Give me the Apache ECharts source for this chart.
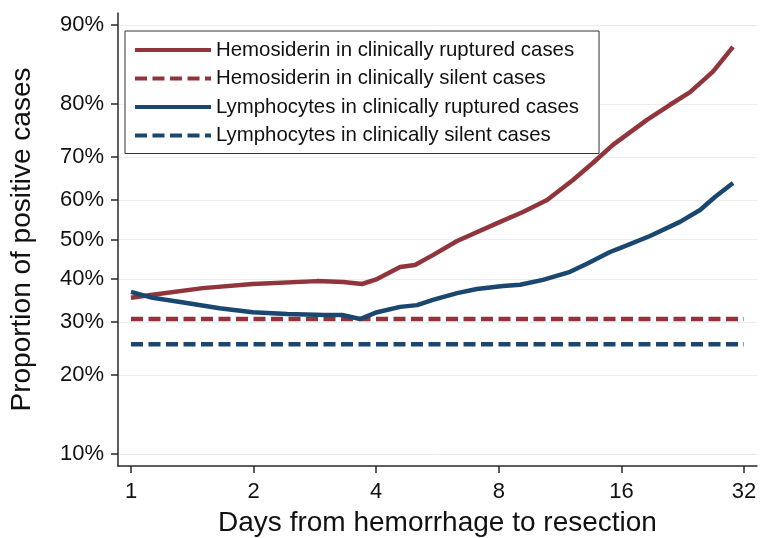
<!DOCTYPE html>
<html>
<head>
<meta charset="utf-8">
<script src="https://cdn.jsdelivr.net/npm/echarts@6/dist/echarts.min.js"></script>
<style>
  html, body { margin: 0; padding: 0; background: #fff; }
  #container { width: 760px; height: 538px; }
</style>
</head>
<body>
<div id="container"></div>
<script>
// days from hemorrhage (x, log2 scale) and proportion positive (y, logit scale)
var hemoRupDays = [1.00, 1.13, 1.50, 1.99, 2.86, 3.32, 3.69, 4.02, 4.58, 4.98, 5.51, 6.32, 8.06, 9.17, 10.51, 12.17, 13.63, 15.25, 18.49, 21.06, 23.59, 26.85, 30.07];
var hemoRupProp = [0.355, 0.362, 0.378, 0.388, 0.395, 0.393, 0.388, 0.400, 0.430, 0.435, 0.460, 0.496, 0.545, 0.570, 0.600, 0.648, 0.687, 0.725, 0.773, 0.799, 0.819, 0.848, 0.878];

var lymphRupDays = [1.00, 1.13, 1.37, 1.65, 1.99, 2.42, 2.99, 3.30, 3.65, 4.02, 4.58, 5.04, 5.51, 6.32, 7.07, 8.19, 9.02, 10.27, 11.97, 13.17, 15.00, 15.87, 18.81, 22.28, 24.96, 27.15, 30.07];
var lymphRupProp = [0.369, 0.355, 0.343, 0.331, 0.322, 0.318, 0.316, 0.316, 0.307, 0.322, 0.334, 0.338, 0.350, 0.366, 0.376, 0.383, 0.386, 0.398, 0.418, 0.438, 0.468, 0.478, 0.509, 0.545, 0.575, 0.607, 0.641];

var silentDays = [1, 32];
var hemoSilentProp = [0.307, 0.307];
var lymphSilentProp = [0.255, 0.255];

var xTicks = [1, 2, 4, 8, 16, 32];
var yTicks = [0.1, 0.2, 0.3, 0.4, 0.5, 0.6, 0.7, 0.8, 0.9];

var seriesNames = [
  "Hemosiderin in clinically ruptured cases",
  "Hemosiderin in clinically silent cases",
  "Lymphocytes in clinically ruptured cases",
  "Lymphocytes in clinically silent cases"
];

var maroon = "#90353b";
var navy = "#1a476f";
var font = "Liberation Sans";

function log2(v) { return Math.log(v) / Math.LN2; }
function logit(p) { return Math.log(p / (1 - p)); }
function pairs(days, props) {
  return days.map(function(d, i) { return [log2(d), logit(props[i])]; });
}

var dom = document.getElementById("container");
var myChart = echarts.init(dom);

var option = {
  animation: false,
  backgroundColor: "#fff",
  textStyle: { fontFamily: font },
  grid: {
    left: 118,
    top: 13,
    right: 3,
    bottom: 72,
    outerBoundsMode: "none"
  },
  legend: {
    orient: "vertical",
    left: 125,
    top: 31,
    padding: [9, 20, 8, 8],
    itemWidth: 76,
    itemHeight: 14,
    itemGap: 8.5,
    backgroundColor: "#fff",
    borderColor: "#333",
    borderWidth: 1,
    borderRadius: 0,
    itemStyle: { opacity: 0 },
    lineStyle: { width: 4 },
    textStyle: { fontSize: 20.4, lineHeight: 20, color: "#111", fontFamily: font },
    data: seriesNames
  },
  xAxis: {
    type: "value",
    min: -0.106,
    max: 5.106,
    name: "Days from hemorrhage to resection",
    nameLocation: "middle",
    nameGap: 43,
    nameTextStyle: { fontSize: 28, color: "#111", fontFamily: font },
    axisLine: { onZero: false, lineStyle: { color: "#2a2a2a", width: 1.5 } },
    axisTick: { length: 7, lineStyle: { color: "#2a2a2a", width: 1.5 }, customValues: xTicks.map(log2) },
    axisLabel: {
      fontSize: 22, color: "#111", margin: 15,
      customValues: xTicks.map(log2),
      formatter: function(v) { return String(Math.round(Math.pow(2, v))); }
    },
    splitLine: { show: false }
  },
  yAxis: {
    type: "value",
    min: -2.32,
    max: 2.32,
    name: "Proportion of positive cases",
    nameLocation: "middle",
    nameGap: 82,
    nameTextStyle: { fontSize: 28, color: "#111", fontFamily: font },
    axisLine: { show: true, onZero: false, lineStyle: { color: "#2a2a2a", width: 1.5 } },
    axisTick: { show: true, length: 7, lineStyle: { color: "#2a2a2a", width: 1.5 }, customValues: yTicks.map(logit) },
    axisLabel: {
      fontSize: 22, color: "#111", margin: 14,
      customValues: yTicks.map(logit),
      formatter: function(v) { return Math.round(100 / (1 + Math.exp(-v))) + "%"; }
    },
    splitLine: { show: true, lineStyle: { color: "#ececec", width: 1 } }
  },
  series: [
    {
      name: seriesNames[0],
      type: "line",
      symbol: "none",
      lineStyle: { color: maroon, width: 4.5 },
      itemStyle: { color: maroon },
      data: pairs(hemoRupDays, hemoRupProp)
    },
    {
      name: seriesNames[1],
      type: "line",
      symbol: "none",
      lineStyle: { color: maroon, width: 4.5, type: [12, 5.5] },
      itemStyle: { color: maroon },
      data: pairs(silentDays, hemoSilentProp)
    },
    {
      name: seriesNames[2],
      type: "line",
      symbol: "none",
      lineStyle: { color: navy, width: 4.5 },
      itemStyle: { color: navy },
      data: pairs(lymphRupDays, lymphRupProp)
    },
    {
      name: seriesNames[3],
      type: "line",
      symbol: "none",
      lineStyle: { color: navy, width: 4.5, type: [12, 5.5] },
      itemStyle: { color: navy },
      data: pairs(silentDays, lymphSilentProp)
    }
  ]
};

if (option && typeof option === "object") {
  myChart.setOption(option, true);
}
</script>
</body>
</html>
